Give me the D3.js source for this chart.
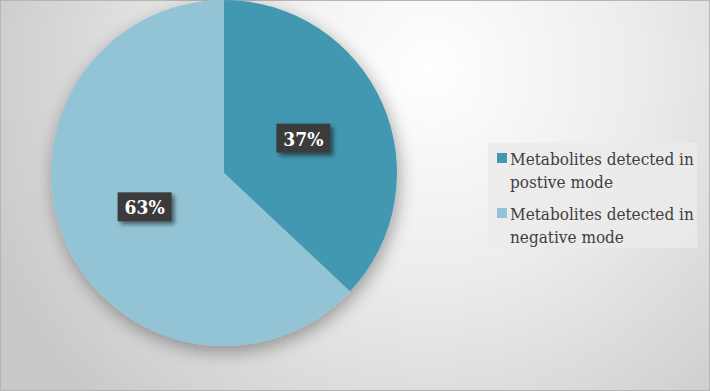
<!DOCTYPE html>
<html>
<head>
<meta charset="utf-8">
<script src="https://cdn.jsdelivr.net/npm/d3@7"></script>
<style>
  body { margin: 0; background: #fff; }
  svg { display: block; }
</style>
</head>
<body>
<svg class="chart" width="710" height="391"></svg>
<script>
// Data
let categories = ["Metabolites detected in postive mode", "Metabolites detected in negative mode"];
let legendLines = [["Metabolites detected in", "postive mode"], ["Metabolites detected in", "negative mode"]];
let shares = [37, 63];
let colors = ["#4298b0", "#93c4d6"];

var svg = d3.select(".chart");
var width = +svg.attr("width");
var height = +svg.attr("height");

let defs = svg.append("defs");

// background gradient, bright spot top middle-right
let bg = defs.append("radialGradient")
  .attr("id", "bg")
  .attr("gradientUnits", "userSpaceOnUse")
  .attr("cx", 430).attr("cy", 70).attr("r", 470);
bg.append("stop").attr("offset", "0%").attr("stop-color", "#ffffff");
bg.append("stop").attr("offset", "45%").attr("stop-color", "#ececec");
bg.append("stop").attr("offset", "100%").attr("stop-color", "#c9c9c9");

let shadow = defs.append("filter").attr("id", "pieShadow")
  .attr("x", "-20%").attr("y", "-20%").attr("width", "140%").attr("height", "140%");
shadow.append("feGaussianBlur").attr("in", "SourceAlpha").attr("stdDeviation", 9);
shadow.append("feOffset").attr("dx", 2).attr("dy", 6).attr("result", "b");
shadow.append("feComponentTransfer").append("feFuncA").attr("type", "linear").attr("slope", 0.35);
let m = shadow.append("feMerge");
m.append("feMergeNode");
m.append("feMergeNode").attr("in", "SourceGraphic");

let boxShadow = defs.append("filter").attr("id", "boxShadow")
  .attr("x", "-30%").attr("y", "-30%").attr("width", "160%").attr("height", "160%");
boxShadow.append("feGaussianBlur").attr("in", "SourceAlpha").attr("stdDeviation", 2);
boxShadow.append("feOffset").attr("dx", 3).attr("dy", 3).attr("result", "b");
boxShadow.append("feComponentTransfer").append("feFuncA").attr("type", "linear").attr("slope", 0.5);
let m2 = boxShadow.append("feMerge");
m2.append("feMergeNode");
m2.append("feMergeNode").attr("in", "SourceGraphic");

svg.append("rect")
   .attr("width", width)
   .attr("height", height)
   .attr("fill", "url(#bg)");

svg.append("rect")
   .attr("x", 0.5).attr("y", 0.5)
   .attr("width", width - 1).attr("height", height - 1)
   .attr("fill", "none")
   .attr("stroke", "#b5b5b5");

let cx = 224, cy = 173, radius = 173;

let pie = d3.pie().sort(null).value(d => d);
let arcs = pie(shares);
let arc = d3.arc().innerRadius(0).outerRadius(radius);
let labelArc = d3.arc().innerRadius(radius * 0.5).outerRadius(radius * 0.5);

let g = svg.append("g").attr("transform", `translate(${cx}, ${cy})`);

g.append("g")
 .attr("filter", "url(#pieShadow)")
 .selectAll("path")
 .data(arcs)
 .enter()
 .append("path")
 .attr("d", arc)
 .attr("fill", (d, i) => colors[i]);

// data labels in dark boxes
let labels = g.selectAll(".lbl")
  .data(arcs)
  .enter()
  .append("g")
  .attr("class", "lbl")
  .attr("transform", d => `translate(${labelArc.centroid(d)})`);

labels.append("rect")
  .attr("x", -27).attr("y", -15)
  .attr("width", 54).attr("height", 29)
  .attr("fill", "#3b3b3b")
  .attr("filter", "url(#boxShadow)");

labels.append("text")
  .attr("text-anchor", "middle")
  .attr("y", 7)
  .attr("fill", "#ffffff")
  .style("font-family", "'DejaVu Serif Condensed', 'DejaVu Serif', serif")
  .style("font-stretch", "condensed")
  .style("font-weight", "bold")
  .style("font-size", "19px")
  .text(d => d.data + "%");

// legend
let legend = svg.append("g").attr("transform", "translate(488, 143)");
legend.append("rect")
  .attr("width", 209).attr("height", 105)
  .attr("fill", "#ebebeb")
  .attr("opacity", 0.85);

for (let i = 0; i < categories.length; i++) {
  let y0 = 10 + i * 55;
  legend.append("rect")
    .attr("x", 9).attr("y", y0)
    .attr("width", 10).attr("height", 10)
    .attr("fill", colors[i]);
  let t = legend.append("text")
    .attr("x", 22)
    .attr("y", y0 + 12)
    .attr("fill", "#404040")
    .style("font-family", "'DejaVu Serif Condensed', 'DejaVu Serif', serif")
    .style("font-stretch", "condensed")
    .style("font-size", "17px");
  legendLines[i].forEach((line, j) => {
    t.append("tspan").attr("x", 22).attr("dy", j == 0 ? 0 : 23).text(line);
  });
}
</script>
</body>
</html>
